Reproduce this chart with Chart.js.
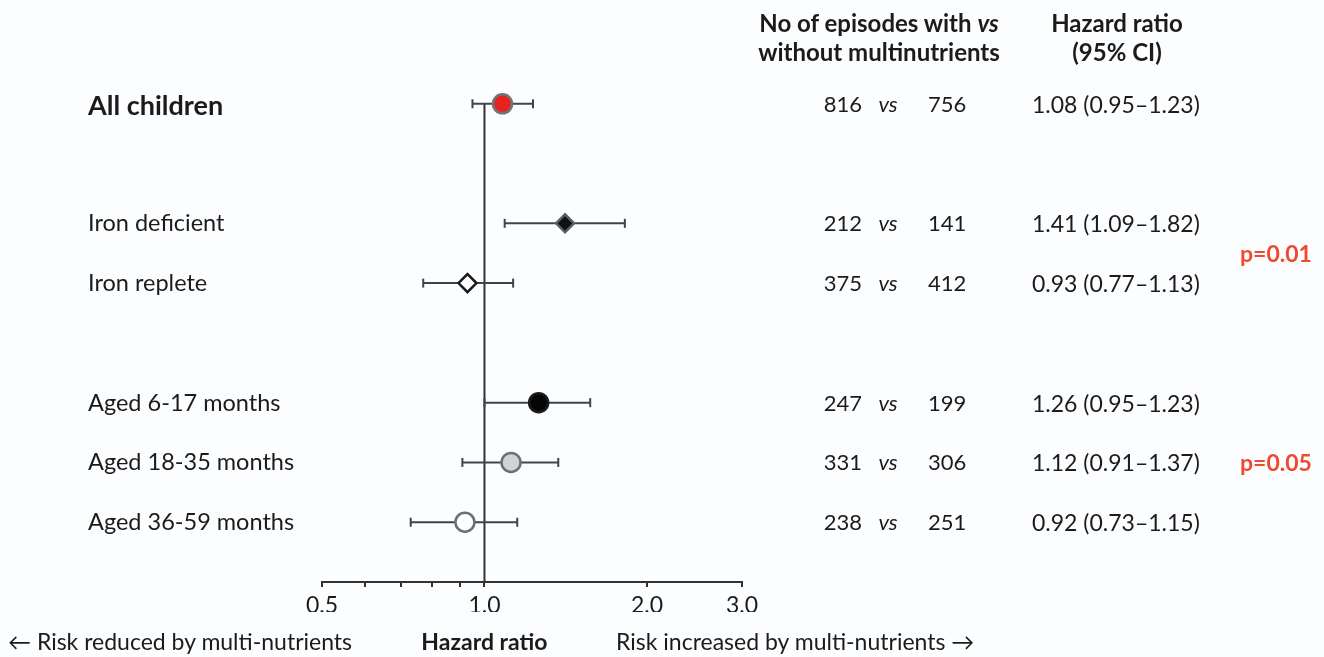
<!DOCTYPE html>
<html>
<head>
<meta charset="utf-8">
<script src="https://cdn.jsdelivr.net/npm/chart.js@4/dist/chart.umd.min.js"></script>
<style>
  html, body { margin: 0; padding: 0; background: #fcfdff; }
  #wrap { position: relative; width: 1324px; height: 657px; font-family: Lato, "Open Sans", sans-serif; color: #1b1b1b; }
  #forest { position: absolute; left: 0; top: 0; }
  .t { position: absolute; white-space: nowrap; font-size: 23px; line-height: 1; transform: translateY(-50%); }
  .b { font-weight: bold; }
  .i { font-style: italic; }
  .c { transform: translate(-50%, -50%); text-align: center; }
  .r { transform: translate(-100%, -50%); }
  .red { color: #ef4a30; font-weight: bold; }
  .num { font-size: 22px; }
  .head { font-size: 24px; font-weight: bold; }
</style>
</head>
<body>
<div id="wrap">
  <canvas id="forest" width="1324" height="657"></canvas>
</div>
<script>
// rows of the forest plot
const rowLabels = ['All children', 'Iron deficient', 'Iron replete', 'Aged 6-17 months', 'Aged 18-35 months', 'Aged 36-59 months'];
const rowPos = [0, 2, 3, 5, 6, 7];
const hazard = [1.08, 1.41, 0.93, 1.26, 1.12, 0.92];
const ciLow = [0.95, 1.09, 0.77, 1.00, 0.91, 0.73];
const ciHigh = [1.23, 1.82, 1.13, 1.57, 1.37, 1.15];
const episodesWith = [816, 212, 375, 247, 331, 238];
const episodesWithout = [756, 141, 412, 199, 306, 251];
const hrText = ['1.08 (0.95–1.23)', '1.41 (1.09–1.82)', '0.93 (0.77–1.13)', '1.26 (0.95–1.23)', '1.12 (0.91–1.37)', '0.92 (0.73–1.15)'];
const pTexts = ['p=0.01', 'p=0.05'];
const pPos = [2.5, 6];
const xTicks = [0.5, 0.6, 0.7, 0.8, 0.9, 1, 2, 3];
const xTickLabels = ['0.5', '1.0', '2.0', '3.0'];

// marker look per row
const markerStyle = ['circle', 'rectRot', 'rectRot', 'circle', 'circle', 'circle'];
const markerFill = ['#e8231f', '#111111', '#ffffff', '#050505', '#d2d3d5', '#ffffff'];
const markerEdge = ['#6e7478', '#5a5f63', '#1a1a1a', '#1a1a1a', '#6b7074', '#6b7074'];
const markerSize = [9.5, 9, 9, 9.5, 9.5, 9.5];

const lineColor = '#3b464c';

function draw() {
    Chart.defaults.font.family = 'Lato, "Open Sans", sans-serif';
    Chart.defaults.color = '#1b1b1b';

    const datasets = [];

    // point estimates
    datasets.push({
        label: 'HR',
        data: rowPos.map((y, i) => ({ x: hazard[i], y: y })),
        pointStyle: markerStyle,
        backgroundColor: markerFill,
        borderColor: markerEdge,
        pointBorderWidth: 2.5,
        pointRadius: markerSize,
        showLine: false,
        order: 0
    });

    // confidence intervals with end caps
    rowPos.forEach((y, i) => {
        datasets.push({
            label: 'CI ' + rowLabels[i],
            data: [{ x: ciLow[i], y: y }, { x: ciHigh[i], y: y }],
            showLine: true,
            borderColor: lineColor,
            borderWidth: 2,
            pointStyle: 'line',
            rotation: 90,
            pointRadius: 4.5,
            pointBorderWidth: 2,
            pointBorderColor: lineColor,
            order: 1
        });
    });

    // line of no effect
    datasets.push({
        label: 'ref',
        data: [{ x: 1, y: 0 }, { x: 1, y: 8 }],
        showLine: true,
        borderColor: '#333333',
        borderWidth: 2,
        pointRadius: 0,
        order: 2
    });

    const chart = new Chart(document.getElementById('forest'), {
        type: 'scatter',
        data: { datasets: datasets },
        options: {
            responsive: false,
            animation: false,
            events: [],
            layout: { padding: { left: 322, right: 582, top: 44, bottom: 45 } },
            plugins: { legend: { display: false }, tooltip: { enabled: false } },
            scales: {
                x: {
                    type: 'logarithmic',
                    min: 0.5,
                    max: 3,
                    afterBuildTicks: scale => { scale.ticks = xTicks.map(v => ({ value: v })); },
                    afterFit: scale => { scale.height = 30; },
                    ticks: {
                        autoSkip: false,
                        maxRotation: 0,
                        padding: 5,
                        font: { size: 23 },
                        color: '#1b1b1b',
                        callback: v => {
                            const s = Number(v).toFixed(1);
                            return xTickLabels.includes(s) ? s : '';
                        }
                    },
                    grid: { drawOnChartArea: false, drawTicks: true, tickLength: 5, color: '#333333', lineWidth: 2 },
                    border: { display: true, color: '#333333', width: 2 }
                },
                y: {
                    display: false,
                    reverse: true,
                    min: -1,
                    max: 8
                }
            }
        }
    });

    // table text placed on the same rows as the plot
    const wrap = document.getElementById('wrap');
    const ys = chart.scales.y;
    const xs = chart.scales.x;
    function put(text, x, y, cls) {
        const d = document.createElement('div');
        d.className = 't ' + (cls || '');
        d.style.left = x + 'px';
        d.style.top = y + 'px';
        d.innerHTML = text;
        wrap.appendChild(d);
        return d;
    }

    rowPos.forEach((p, i) => {
        const y = ys.getPixelForValue(p);
        const lab = put(rowLabels[i], 88, y, i === 0 ? 'b' : '');
        lab.style.fontSize = i === 0 ? '27px' : '23.5px';
        put(String(episodesWith[i]), 862, y, 'r num');
        put('vs', 888, y, 'i c num');
        put(String(episodesWithout[i]), 928, y, 'num');
        put(hrText[i], 1032, y, '');
    });
    pPos.forEach((p, i) => put(pTexts[i], 1240, ys.getPixelForValue(p), 'red'));

    // column headers
    put('No of episodes with <i>vs</i>', 879, 23, 'head c');
    put('without multinutrients', 879, 52, 'head c');
    put('Hazard ratio', 1117, 23, 'head c');
    put('(95% CI)', 1117, 52, 'head c');

    // direction captions under the axis
    put('← Risk reduced by multi-nutrients', 8, 641, '');
    put('Hazard ratio', xs.getPixelForValue(1), 641, 'b c');
    put('Risk increased by multi-nutrients →', 616, 641, '');
}

document.fonts.load('20px Lato').then(draw, draw);
</script>
</body>
</html>
